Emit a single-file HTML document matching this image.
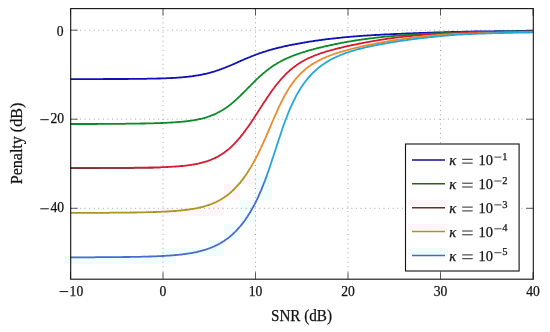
<!DOCTYPE html>
<html><head><meta charset="utf-8"><style>
html,body{margin:0;padding:0;background:#fff;}
body{width:550px;height:332px;overflow:hidden;}
svg{display:block;will-change:transform;}
text{font-family:"Liberation Serif",serif;fill:#111;stroke:#111;stroke-width:0.25px;}
.tl{font-size:13.6px;}
.al{font-size:16px;}
.lg{font-size:14.5px;}
.sup{font-size:10.5px;}
.grid{stroke:#a4a4a4;stroke-width:1.0;stroke-dasharray:1.0 3.6;}
.tick{stroke:#333;stroke-width:0.8;}
</style></head><body>
<svg width="550" height="332" viewBox="0 0 550 332">
<rect x="64" y="256" width="112" height="8" fill="#f1fdfd"/>
<rect x="176" y="248" width="32" height="8" fill="#f1fdfd"/>
<rect x="160" y="248" width="16" height="16" fill="#f1fdfd"/>
<rect x="208" y="240" width="16" height="16" fill="#f1fdfd"/>
<rect x="224" y="224" width="16" height="16" fill="#f1fdfd"/>
<rect x="240" y="200" width="16" height="24" fill="#f1fdfd"/>
<rect x="256" y="176" width="16" height="24" fill="#f1fdfd"/>
<rect x="160" y="208" width="48" height="8" fill="#fef5f8"/>
<rect x="208" y="200" width="16" height="16" fill="#fef5f8"/>
<rect x="224" y="184" width="16" height="16" fill="#fef5f8"/>
<rect x="240" y="176" width="16" height="8" fill="#fef5f8"/>
<line x1="163.0" y1="8.6" x2="163.0" y2="279.2" class="grid"/>
<line x1="255.5" y1="8.6" x2="255.5" y2="279.2" class="grid"/>
<line x1="348.0" y1="8.6" x2="348.0" y2="279.2" class="grid"/>
<line x1="440.5" y1="8.6" x2="440.5" y2="279.2" class="grid"/>
<line x1="70.7" y1="30.2" x2="533.3" y2="30.2" class="grid"/>
<line x1="70.7" y1="119.2" x2="533.3" y2="119.2" class="grid"/>
<line x1="70.7" y1="208.3" x2="533.3" y2="208.3" class="grid"/>
<line x1="70.5" y1="279.2" x2="70.5" y2="272.2" class="tick"/>
<line x1="70.5" y1="8.6" x2="70.5" y2="15.6" class="tick"/>
<line x1="163.0" y1="279.2" x2="163.0" y2="272.2" class="tick"/>
<line x1="163.0" y1="8.6" x2="163.0" y2="15.6" class="tick"/>
<line x1="255.5" y1="279.2" x2="255.5" y2="272.2" class="tick"/>
<line x1="255.5" y1="8.6" x2="255.5" y2="15.6" class="tick"/>
<line x1="348.0" y1="279.2" x2="348.0" y2="272.2" class="tick"/>
<line x1="348.0" y1="8.6" x2="348.0" y2="15.6" class="tick"/>
<line x1="440.5" y1="279.2" x2="440.5" y2="272.2" class="tick"/>
<line x1="440.5" y1="8.6" x2="440.5" y2="15.6" class="tick"/>
<line x1="533.0" y1="279.2" x2="533.0" y2="272.2" class="tick"/>
<line x1="533.0" y1="8.6" x2="533.0" y2="15.6" class="tick"/>
<line x1="70.7" y1="30.2" x2="77.7" y2="30.2" class="tick"/>
<line x1="533.3" y1="30.2" x2="526.3" y2="30.2" class="tick"/>
<line x1="70.7" y1="119.2" x2="77.7" y2="119.2" class="tick"/>
<line x1="533.3" y1="119.2" x2="526.3" y2="119.2" class="tick"/>
<line x1="70.7" y1="208.3" x2="77.7" y2="208.3" class="tick"/>
<line x1="533.3" y1="208.3" x2="526.3" y2="208.3" class="tick"/>
<defs><linearGradient id="gOr" gradientUnits="userSpaceOnUse" x1="70" y1="0" x2="533" y2="0"><stop offset="0" stop-color="#a8961e"/><stop offset="0.3801" stop-color="#a8961e"/><stop offset="0.3974" stop-color="#ec8a2c"/><stop offset="1" stop-color="#ec8a2c"/></linearGradient><linearGradient id="gCy" gradientUnits="userSpaceOnUse" x1="70" y1="0" x2="533" y2="0"><stop offset="0" stop-color="#4a6ad0"/><stop offset="0.4147" stop-color="#4a6ad0"/><stop offset="0.4320" stop-color="#22a8d8"/><stop offset="1" stop-color="#22a8d8"/></linearGradient></defs>
<clipPath id="cpR"><rect x="60" y="168" width="150" height="8"/></clipPath>
<path d="M70.5,79.1 L71.4,79.1 L72.3,79.1 L73.3,79.1 L74.2,79.1 L75.1,79.1 L76.0,79.1 L77.0,79.1 L77.9,79.1 L78.8,79.1 L79.8,79.1 L80.7,79.1 L81.6,79.1 L82.5,79.1 L83.5,79.1 L84.4,79.1 L85.3,79.1 L86.2,79.1 L87.2,79.1 L88.1,79.1 L89.0,79.1 L89.9,79.1 L90.9,79.1 L91.8,79.1 L92.7,79.1 L93.6,79.1 L94.5,79.1 L95.5,79.1 L96.4,79.1 L97.3,79.1 L98.2,79.1 L99.2,79.1 L100.1,79.1 L101.0,79.1 L102.0,79.1 L102.9,79.1 L103.8,79.0 L104.7,79.0 L105.7,79.0 L106.6,79.0 L107.5,79.0 L108.4,79.0 L109.3,79.0 L110.3,79.0 L111.2,79.0 L112.1,79.0 L113.1,79.0 L114.0,79.0 L114.9,79.0 L115.8,79.0 L116.8,79.0 L117.7,79.0 L118.6,79.0 L119.5,79.0 L120.5,79.0 L121.4,79.0 L122.3,79.0 L123.2,79.0 L124.2,79.0 L125.1,79.0 L126.0,79.0 L126.9,79.0 L127.8,79.0 L128.8,78.9 L129.7,78.9 L130.6,78.9 L131.6,78.9 L132.5,78.9 L133.4,78.9 L134.3,78.9 L135.2,78.9 L136.2,78.9 L137.1,78.9 L138.0,78.9 L138.9,78.9 L139.9,78.8 L140.8,78.8 L141.7,78.8 L142.7,78.8 L143.6,78.8 L144.5,78.8 L145.4,78.8 L146.4,78.8 L147.3,78.7 L148.2,78.7 L149.1,78.7 L150.1,78.7 L151.0,78.7 L151.9,78.7 L152.8,78.6 L153.8,78.6 L154.7,78.6 L155.6,78.6 L156.5,78.6 L157.4,78.5 L158.4,78.5 L159.3,78.5 L160.2,78.5 L161.2,78.4 L162.1,78.4 L163.0,78.4 L163.9,78.3 L164.9,78.3 L165.8,78.3 L166.7,78.2 L167.6,78.2 L168.6,78.2 L169.5,78.1 L170.4,78.1 L171.3,78.0 L172.2,78.0 L173.2,77.9 L174.1,77.9 L175.0,77.8 L175.9,77.8 L176.9,77.7 L177.8,77.6 L178.7,77.6 L179.7,77.5 L180.6,77.4 L181.5,77.4 L182.4,77.3 L183.4,77.2 L184.3,77.1 L185.2,77.0 L186.1,76.9 L187.1,76.8 L188.0,76.7 L188.9,76.6 L189.8,76.5 L190.8,76.4 L191.7,76.3 L192.6,76.2 L193.5,76.0 L194.4,75.9 L195.4,75.7 L196.3,75.6 L197.2,75.4 L198.2,75.3 L199.1,75.1 L200.0,75.0 L200.9,74.8 L201.9,74.6 L202.8,74.4 L203.7,74.2 L204.6,74.0 L205.6,73.8 L206.5,73.6 L207.4,73.4 L208.3,73.1 L209.2,72.9 L210.2,72.6 L211.1,72.4 L212.0,72.1 L212.9,71.8 L213.9,71.6 L214.8,71.3 L215.7,71.0 L216.7,70.7 L217.6,70.4 L218.5,70.1 L219.4,69.7 L220.3,69.4 L221.3,69.1 L222.2,68.7 L223.1,68.4 L224.1,68.0 L225.0,67.7 L225.9,67.3 L226.8,66.9 L227.8,66.5 L228.7,66.2 L229.6,65.8 L230.5,65.4 L231.5,65.0 L232.4,64.6 L233.3,64.2 L234.2,63.8 L235.2,63.4 L236.1,63.0 L237.0,62.6 L237.9,62.1 L238.8,61.7 L239.8,61.3 L240.7,60.9 L241.6,60.5 L242.6,60.1 L243.5,59.7 L244.4,59.3 L245.3,58.9 L246.2,58.5 L247.2,58.1 L248.1,57.7 L249.0,57.4 L250.0,57.0 L250.9,56.6 L251.8,56.2 L252.7,55.9 L253.7,55.5 L254.6,55.1 L255.5,54.8 L256.4,54.4 L257.4,54.1 L258.3,53.8 L259.2,53.4 L260.1,53.1 L261.1,52.8 L262.0,52.5 L262.9,52.2 L263.8,51.9 L264.8,51.6 L265.7,51.3 L266.6,51.0 L267.5,50.7 L268.5,50.5 L269.4,50.2 L270.3,49.9 L271.2,49.7 L272.1,49.4 L273.1,49.1 L274.0,48.9 L274.9,48.7 L275.9,48.4 L276.8,48.2 L277.7,48.0 L278.6,47.7 L279.6,47.5 L280.5,47.3 L281.4,47.1 L282.3,46.9 L283.2,46.6 L284.2,46.4 L285.1,46.2 L286.0,46.0 L287.0,45.8 L287.9,45.6 L288.8,45.4 L289.7,45.2 L290.6,45.1 L291.6,44.9 L292.5,44.7 L293.4,44.5 L294.4,44.3 L295.3,44.2 L296.2,44.0 L297.1,43.8 L298.1,43.6 L299.0,43.5 L299.9,43.3 L300.8,43.1 L301.8,43.0 L302.7,42.8 L303.6,42.7 L304.5,42.5 L305.5,42.3 L306.4,42.2 L307.3,42.0 L308.2,41.9 L309.1,41.7 L310.1,41.6 L311.0,41.4 L311.9,41.3 L312.9,41.2 L313.8,41.0 L314.7,40.9 L315.6,40.7 L316.6,40.6 L317.5,40.5 L318.4,40.3 L319.3,40.2 L320.2,40.1 L321.2,40.0 L322.1,39.8 L323.0,39.7 L324.0,39.6 L324.9,39.5 L325.8,39.4 L326.7,39.2 L327.6,39.1 L328.6,39.0 L329.5,38.9 L330.4,38.8 L331.4,38.7 L332.3,38.6 L333.2,38.5 L334.1,38.4 L335.1,38.3 L336.0,38.2 L336.9,38.1 L337.8,38.0 L338.8,37.9 L339.7,37.8 L340.6,37.7 L341.5,37.6 L342.5,37.5 L343.4,37.4 L344.3,37.3 L345.2,37.2 L346.1,37.1 L347.1,37.1 L348.0,37.0 L348.9,36.9 L349.9,36.8 L350.8,36.7 L351.7,36.7 L352.6,36.6 L353.6,36.5 L354.5,36.4 L355.4,36.4 L356.3,36.3 L357.2,36.2 L358.2,36.1 L359.1,36.1 L360.0,36.0 L361.0,35.9 L361.9,35.9 L362.8,35.8 L363.7,35.7 L364.6,35.7 L365.6,35.6 L366.5,35.6 L367.4,35.5 L368.4,35.4 L369.3,35.4 L370.2,35.3 L371.1,35.3 L372.1,35.2 L373.0,35.1 L373.9,35.1 L374.8,35.0 L375.8,35.0 L376.7,34.9 L377.6,34.9 L378.5,34.8 L379.4,34.8 L380.4,34.7 L381.3,34.7 L382.2,34.6 L383.2,34.6 L384.1,34.5 L385.0,34.5 L385.9,34.4 L386.9,34.4 L387.8,34.3 L388.7,34.3 L389.6,34.3 L390.6,34.2 L391.5,34.2 L392.4,34.1 L393.3,34.1 L394.2,34.0 L395.2,34.0 L396.1,34.0 L397.0,33.9 L397.9,33.9 L398.9,33.8 L399.8,33.8 L400.7,33.8 L401.7,33.7 L402.6,33.7 L403.5,33.6 L404.4,33.6 L405.4,33.6 L406.3,33.5 L407.2,33.5 L408.1,33.4 L409.1,33.4 L410.0,33.4 L410.9,33.3 L411.8,33.3 L412.8,33.3 L413.7,33.2 L414.6,33.2 L415.5,33.2 L416.4,33.1 L417.4,33.1 L418.3,33.1 L419.2,33.0 L420.2,33.0 L421.1,33.0 L422.0,32.9 L422.9,32.9 L423.9,32.9 L424.8,32.8 L425.7,32.8 L426.6,32.8 L427.6,32.7 L428.5,32.7 L429.4,32.7 L430.3,32.7 L431.2,32.6 L432.2,32.6 L433.1,32.6 L434.0,32.5 L435.0,32.5 L435.9,32.5 L436.8,32.5 L437.7,32.4 L438.7,32.4 L439.6,32.4 L440.5,32.4 L441.4,32.3 L442.4,32.3 L443.3,32.3 L444.2,32.2 L445.1,32.2 L446.1,32.2 L447.0,32.2 L447.9,32.1 L448.8,32.1 L449.8,32.1 L450.7,32.1 L451.6,32.0 L452.5,32.0 L453.5,32.0 L454.4,32.0 L455.3,31.9 L456.2,31.9 L457.2,31.9 L458.1,31.9 L459.0,31.8 L459.9,31.8 L460.9,31.8 L461.8,31.8 L462.7,31.8 L463.6,31.7 L464.6,31.7 L465.5,31.7 L466.4,31.7 L467.3,31.7 L468.2,31.6 L469.2,31.6 L470.1,31.6 L471.0,31.6 L472.0,31.6 L472.9,31.6 L473.8,31.5 L474.7,31.5 L475.7,31.5 L476.6,31.5 L477.5,31.5 L478.4,31.5 L479.4,31.5 L480.3,31.4 L481.2,31.4 L482.1,31.4 L483.1,31.4 L484.0,31.4 L484.9,31.4 L485.8,31.4 L486.8,31.3 L487.7,31.3 L488.6,31.3 L489.5,31.3 L490.5,31.3 L491.4,31.3 L492.3,31.3 L493.2,31.3 L494.2,31.3 L495.1,31.2 L496.0,31.2 L496.9,31.2 L497.9,31.2 L498.8,31.2 L499.7,31.2 L500.6,31.2 L501.6,31.2 L502.5,31.2 L503.4,31.2 L504.3,31.2 L505.2,31.1 L506.2,31.1 L507.1,31.1 L508.0,31.1 L509.0,31.1 L509.9,31.1 L510.8,31.1 L511.7,31.1 L512.7,31.1 L513.6,31.1 L514.5,31.1 L515.4,31.1 L516.4,31.0 L517.3,31.0 L518.2,31.0 L519.1,31.0 L520.0,31.0 L521.0,31.0 L521.9,31.0 L522.8,31.0 L523.8,31.0 L524.7,31.0 L525.6,31.0 L526.5,31.0 L527.5,30.9 L528.4,30.9 L529.3,30.9 L530.2,30.9 L531.2,30.9 L532.1,30.9 L533.0,30.9" fill="none" stroke="#1010b8" stroke-width="1.8" stroke-linejoin="round"/>
<path d="M70.5,124.0 L71.4,124.0 L72.3,124.0 L73.3,124.0 L74.2,124.0 L75.1,124.0 L76.0,124.0 L77.0,124.0 L77.9,124.0 L78.8,124.0 L79.8,124.0 L80.7,124.0 L81.6,124.0 L82.5,124.0 L83.5,124.0 L84.4,124.0 L85.3,124.0 L86.2,124.0 L87.2,124.0 L88.1,124.0 L89.0,124.0 L89.9,124.0 L90.9,124.0 L91.8,124.0 L92.7,124.0 L93.6,124.0 L94.5,124.0 L95.5,124.0 L96.4,124.0 L97.3,124.0 L98.2,123.9 L99.2,123.9 L100.1,123.9 L101.0,123.9 L102.0,123.9 L102.9,123.9 L103.8,123.9 L104.7,123.9 L105.7,123.9 L106.6,123.9 L107.5,123.9 L108.4,123.9 L109.3,123.9 L110.3,123.9 L111.2,123.9 L112.1,123.9 L113.1,123.9 L114.0,123.9 L114.9,123.8 L115.8,123.8 L116.8,123.8 L117.7,123.8 L118.6,123.8 L119.5,123.8 L120.5,123.8 L121.4,123.8 L122.3,123.8 L123.2,123.8 L124.2,123.8 L125.1,123.8 L126.0,123.7 L126.9,123.7 L127.8,123.7 L128.8,123.7 L129.7,123.7 L130.6,123.7 L131.6,123.7 L132.5,123.7 L133.4,123.7 L134.3,123.6 L135.2,123.6 L136.2,123.6 L137.1,123.6 L138.0,123.6 L138.9,123.6 L139.9,123.6 L140.8,123.5 L141.7,123.5 L142.7,123.5 L143.6,123.5 L144.5,123.5 L145.4,123.5 L146.4,123.4 L147.3,123.4 L148.2,123.4 L149.1,123.4 L150.1,123.4 L151.0,123.3 L151.9,123.3 L152.8,123.3 L153.8,123.3 L154.7,123.2 L155.6,123.2 L156.5,123.2 L157.4,123.1 L158.4,123.1 L159.3,123.1 L160.2,123.1 L161.2,123.0 L162.1,123.0 L163.0,122.9 L163.9,122.9 L164.9,122.9 L165.8,122.8 L166.7,122.8 L167.6,122.7 L168.6,122.7 L169.5,122.6 L170.4,122.6 L171.3,122.5 L172.2,122.5 L173.2,122.4 L174.1,122.4 L175.0,122.3 L175.9,122.2 L176.9,122.2 L177.8,122.1 L178.7,122.0 L179.7,121.9 L180.6,121.9 L181.5,121.8 L182.4,121.7 L183.4,121.6 L184.3,121.5 L185.2,121.4 L186.1,121.3 L187.1,121.2 L188.0,121.1 L188.9,120.9 L189.8,120.8 L190.8,120.7 L191.7,120.6 L192.6,120.4 L193.5,120.3 L194.4,120.1 L195.4,119.9 L196.3,119.8 L197.2,119.6 L198.2,119.4 L199.1,119.2 L200.0,119.0 L200.9,118.8 L201.9,118.6 L202.8,118.3 L203.7,118.1 L204.6,117.8 L205.6,117.6 L206.5,117.3 L207.4,117.0 L208.3,116.7 L209.2,116.4 L210.2,116.0 L211.1,115.7 L212.0,115.3 L212.9,114.9 L213.9,114.6 L214.8,114.1 L215.7,113.7 L216.7,113.3 L217.6,112.8 L218.5,112.3 L219.4,111.9 L220.3,111.3 L221.3,110.8 L222.2,110.3 L223.1,109.7 L224.1,109.1 L225.0,108.5 L225.9,107.9 L226.8,107.2 L227.8,106.6 L228.7,105.9 L229.6,105.2 L230.5,104.4 L231.5,103.7 L232.4,102.9 L233.3,102.2 L234.2,101.4 L235.2,100.5 L236.1,99.7 L237.0,98.9 L237.9,98.0 L238.8,97.1 L239.8,96.3 L240.7,95.4 L241.6,94.5 L242.6,93.5 L243.5,92.6 L244.4,91.7 L245.3,90.8 L246.2,89.8 L247.2,88.9 L248.1,87.9 L249.0,87.0 L250.0,86.1 L250.9,85.1 L251.8,84.2 L252.7,83.3 L253.7,82.3 L254.6,81.4 L255.5,80.5 L256.4,79.6 L257.4,78.7 L258.3,77.9 L259.2,77.0 L260.1,76.2 L261.1,75.3 L262.0,74.5 L262.9,73.7 L263.8,72.9 L264.8,72.2 L265.7,71.4 L266.6,70.7 L267.5,69.9 L268.5,69.2 L269.4,68.5 L270.3,67.9 L271.2,67.2 L272.1,66.6 L273.1,65.9 L274.0,65.3 L274.9,64.7 L275.9,64.2 L276.8,63.6 L277.7,63.0 L278.6,62.5 L279.6,62.0 L280.5,61.5 L281.4,61.0 L282.3,60.5 L283.2,60.0 L284.2,59.6 L285.1,59.1 L286.0,58.7 L287.0,58.3 L287.9,57.9 L288.8,57.5 L289.7,57.1 L290.6,56.7 L291.6,56.3 L292.5,55.9 L293.4,55.6 L294.4,55.2 L295.3,54.9 L296.2,54.6 L297.1,54.2 L298.1,53.9 L299.0,53.6 L299.9,53.3 L300.8,53.0 L301.8,52.7 L302.7,52.4 L303.6,52.1 L304.5,51.8 L305.5,51.5 L306.4,51.2 L307.3,51.0 L308.2,50.7 L309.1,50.4 L310.1,50.2 L311.0,49.9 L311.9,49.6 L312.9,49.4 L313.8,49.1 L314.7,48.9 L315.6,48.7 L316.6,48.4 L317.5,48.2 L318.4,48.0 L319.3,47.7 L320.2,47.5 L321.2,47.3 L322.1,47.1 L323.0,46.8 L324.0,46.6 L324.9,46.4 L325.8,46.2 L326.7,46.0 L327.6,45.8 L328.6,45.6 L329.5,45.4 L330.4,45.2 L331.4,45.0 L332.3,44.8 L333.2,44.6 L334.1,44.4 L335.1,44.2 L336.0,44.0 L336.9,43.8 L337.8,43.6 L338.8,43.4 L339.7,43.3 L340.6,43.1 L341.5,42.9 L342.5,42.7 L343.4,42.6 L344.3,42.4 L345.2,42.2 L346.1,42.1 L347.1,41.9 L348.0,41.7 L348.9,41.6 L349.9,41.4 L350.8,41.3 L351.7,41.1 L352.6,40.9 L353.6,40.8 L354.5,40.6 L355.4,40.5 L356.3,40.4 L357.2,40.2 L358.2,40.1 L359.1,39.9 L360.0,39.8 L361.0,39.7 L361.9,39.5 L362.8,39.4 L363.7,39.3 L364.6,39.1 L365.6,39.0 L366.5,38.9 L367.4,38.8 L368.4,38.6 L369.3,38.5 L370.2,38.4 L371.1,38.3 L372.1,38.2 L373.0,38.1 L373.9,38.0 L374.8,37.8 L375.8,37.7 L376.7,37.6 L377.6,37.5 L378.5,37.4 L379.4,37.3 L380.4,37.2 L381.3,37.1 L382.2,37.0 L383.2,36.9 L384.1,36.8 L385.0,36.7 L385.9,36.7 L386.9,36.6 L387.8,36.5 L388.7,36.4 L389.6,36.3 L390.6,36.2 L391.5,36.1 L392.4,36.1 L393.3,36.0 L394.2,35.9 L395.2,35.8 L396.1,35.7 L397.0,35.7 L397.9,35.6 L398.9,35.5 L399.8,35.5 L400.7,35.4 L401.7,35.3 L402.6,35.2 L403.5,35.2 L404.4,35.1 L405.4,35.1 L406.3,35.0 L407.2,34.9 L408.1,34.9 L409.1,34.8 L410.0,34.7 L410.9,34.7 L411.8,34.6 L412.8,34.6 L413.7,34.5 L414.6,34.5 L415.5,34.4 L416.4,34.4 L417.4,34.3 L418.3,34.2 L419.2,34.2 L420.2,34.1 L421.1,34.1 L422.0,34.0 L422.9,34.0 L423.9,34.0 L424.8,33.9 L425.7,33.9 L426.6,33.8 L427.6,33.8 L428.5,33.7 L429.4,33.7 L430.3,33.6 L431.2,33.6 L432.2,33.6 L433.1,33.5 L434.0,33.5 L435.0,33.4 L435.9,33.4 L436.8,33.4 L437.7,33.3 L438.7,33.3 L439.6,33.3 L440.5,33.2 L441.4,33.2 L442.4,33.2 L443.3,33.1 L444.2,33.1 L445.1,33.1 L446.1,33.0 L447.0,33.0 L447.9,33.0 L448.8,32.9 L449.8,32.9 L450.7,32.9 L451.6,32.8 L452.5,32.8 L453.5,32.8 L454.4,32.7 L455.3,32.7 L456.2,32.7 L457.2,32.6 L458.1,32.6 L459.0,32.6 L459.9,32.5 L460.9,32.5 L461.8,32.5 L462.7,32.5 L463.6,32.4 L464.6,32.4 L465.5,32.4 L466.4,32.3 L467.3,32.3 L468.2,32.3 L469.2,32.2 L470.1,32.2 L471.0,32.2 L472.0,32.2 L472.9,32.1 L473.8,32.1 L474.7,32.1 L475.7,32.1 L476.6,32.1 L477.5,32.1 L478.4,32.0 L479.4,32.0 L480.3,32.0 L481.2,32.0 L482.1,32.0 L483.1,31.9 L484.0,31.9 L484.9,31.9 L485.8,31.9 L486.8,31.9 L487.7,31.8 L488.6,31.8 L489.5,31.8 L490.5,31.8 L491.4,31.8 L492.3,31.8 L493.2,31.8 L494.2,31.7 L495.1,31.7 L496.0,31.7 L496.9,31.7 L497.9,31.7 L498.8,31.7 L499.7,31.7 L500.6,31.6 L501.6,31.6 L502.5,31.6 L503.4,31.6 L504.3,31.6 L505.2,31.6 L506.2,31.6 L507.1,31.5 L508.0,31.5 L509.0,31.5 L509.9,31.5 L510.8,31.5 L511.7,31.5 L512.7,31.5 L513.6,31.5 L514.5,31.5 L515.4,31.5 L516.4,31.4 L517.3,31.4 L518.2,31.4 L519.1,31.4 L520.0,31.4 L521.0,31.4 L521.9,31.4 L522.8,31.4 L523.8,31.4 L524.7,31.4 L525.6,31.4 L526.5,31.4 L527.5,31.3 L528.4,31.3 L529.3,31.3 L530.2,31.3 L531.2,31.3 L532.1,31.3 L533.0,31.3" fill="none" stroke="#0a8a28" stroke-width="1.8" stroke-linejoin="round"/>
<path d="M70.5,168.0 L71.4,168.0 L72.3,168.0 L73.3,168.0 L74.2,168.0 L75.1,168.0 L76.0,168.0 L77.0,168.0 L77.9,168.0 L78.8,168.0 L79.8,168.0 L80.7,168.0 L81.6,168.0 L82.5,168.0 L83.5,168.0 L84.4,168.0 L85.3,168.0 L86.2,168.0 L87.2,168.0 L88.1,168.0 L89.0,168.0 L89.9,168.0 L90.9,168.0 L91.8,168.0 L92.7,168.0 L93.6,168.0 L94.5,168.0 L95.5,168.0 L96.4,168.0 L97.3,168.0 L98.2,168.0 L99.2,167.9 L100.1,167.9 L101.0,167.9 L102.0,167.9 L102.9,167.9 L103.8,167.9 L104.7,167.9 L105.7,167.9 L106.6,167.9 L107.5,167.9 L108.4,167.9 L109.3,167.9 L110.3,167.9 L111.2,167.9 L112.1,167.9 L113.1,167.9 L114.0,167.9 L114.9,167.9 L115.8,167.9 L116.8,167.9 L117.7,167.9 L118.6,167.9 L119.5,167.9 L120.5,167.9 L121.4,167.8 L122.3,167.8 L123.2,167.8 L124.2,167.8 L125.1,167.8 L126.0,167.8 L126.9,167.8 L127.8,167.8 L128.8,167.8 L129.7,167.8 L130.6,167.8 L131.6,167.8 L132.5,167.8 L133.4,167.8 L134.3,167.7 L135.2,167.7 L136.2,167.7 L137.1,167.7 L138.0,167.7 L138.9,167.7 L139.9,167.7 L140.8,167.7 L141.7,167.7 L142.7,167.6 L143.6,167.6 L144.5,167.6 L145.4,167.6 L146.4,167.6 L147.3,167.6 L148.2,167.6 L149.1,167.5 L150.1,167.5 L151.0,167.5 L151.9,167.5 L152.8,167.5 L153.8,167.4 L154.7,167.4 L155.6,167.4 L156.5,167.4 L157.4,167.3 L158.4,167.3 L159.3,167.3 L160.2,167.3 L161.2,167.2 L162.1,167.2 L163.0,167.2 L163.9,167.1 L164.9,167.1 L165.8,167.1 L166.7,167.0 L167.6,167.0 L168.6,166.9 L169.5,166.9 L170.4,166.8 L171.3,166.8 L172.2,166.7 L173.2,166.7 L174.1,166.6 L175.0,166.6 L175.9,166.5 L176.9,166.4 L177.8,166.4 L178.7,166.3 L179.7,166.2 L180.6,166.1 L181.5,166.0 L182.4,166.0 L183.4,165.9 L184.3,165.8 L185.2,165.7 L186.1,165.6 L187.1,165.4 L188.0,165.3 L188.9,165.2 L189.8,165.1 L190.8,164.9 L191.7,164.8 L192.6,164.7 L193.5,164.5 L194.4,164.3 L195.4,164.2 L196.3,164.0 L197.2,163.8 L198.2,163.6 L199.1,163.4 L200.0,163.2 L200.9,163.0 L201.9,162.7 L202.8,162.5 L203.7,162.2 L204.6,162.0 L205.6,161.7 L206.5,161.4 L207.4,161.1 L208.3,160.8 L209.2,160.4 L210.2,160.1 L211.1,159.7 L212.0,159.3 L212.9,158.9 L213.9,158.5 L214.8,158.1 L215.7,157.6 L216.7,157.2 L217.6,156.7 L218.5,156.2 L219.4,155.6 L220.3,155.1 L221.3,154.5 L222.2,153.9 L223.1,153.3 L224.1,152.7 L225.0,152.0 L225.9,151.3 L226.8,150.6 L227.8,149.8 L228.7,149.1 L229.6,148.3 L230.5,147.5 L231.5,146.6 L232.4,145.7 L233.3,144.8 L234.2,143.9 L235.2,142.9 L236.1,141.9 L237.0,140.9 L237.9,139.9 L238.8,138.8 L239.8,137.7 L240.7,136.6 L241.6,135.4 L242.6,134.3 L243.5,133.1 L244.4,131.8 L245.3,130.6 L246.2,129.3 L247.2,128.0 L248.1,126.7 L249.0,125.4 L250.0,124.0 L250.9,122.7 L251.8,121.3 L252.7,119.9 L253.7,118.5 L254.6,117.1 L255.5,115.6 L256.4,114.2 L257.4,112.8 L258.3,111.3 L259.2,109.9 L260.1,108.4 L261.1,107.0 L262.0,105.6 L262.9,104.1 L263.8,102.7 L264.8,101.3 L265.7,99.9 L266.6,98.5 L267.5,97.1 L268.5,95.8 L269.4,94.4 L270.3,93.1 L271.2,91.8 L272.1,90.5 L273.1,89.2 L274.0,88.0 L274.9,86.7 L275.9,85.5 L276.8,84.3 L277.7,83.2 L278.6,82.1 L279.6,81.0 L280.5,79.9 L281.4,78.8 L282.3,77.8 L283.2,76.8 L284.2,75.8 L285.1,74.9 L286.0,73.9 L287.0,73.0 L287.9,72.2 L288.8,71.3 L289.7,70.5 L290.6,69.7 L291.6,68.9 L292.5,68.2 L293.4,67.4 L294.4,66.7 L295.3,66.0 L296.2,65.4 L297.1,64.7 L298.1,64.1 L299.0,63.5 L299.9,62.9 L300.8,62.3 L301.8,61.8 L302.7,61.2 L303.6,60.7 L304.5,60.2 L305.5,59.7 L306.4,59.3 L307.3,58.8 L308.2,58.3 L309.1,57.9 L310.1,57.5 L311.0,57.1 L311.9,56.7 L312.9,56.3 L313.8,55.9 L314.7,55.5 L315.6,55.2 L316.6,54.8 L317.5,54.5 L318.4,54.1 L319.3,53.8 L320.2,53.5 L321.2,53.2 L322.1,52.9 L323.0,52.6 L324.0,52.3 L324.9,52.0 L325.8,51.7 L326.7,51.4 L327.6,51.2 L328.6,50.9 L329.5,50.6 L330.4,50.4 L331.4,50.1 L332.3,49.9 L333.2,49.6 L334.1,49.4 L335.1,49.1 L336.0,48.9 L336.9,48.7 L337.8,48.4 L338.8,48.2 L339.7,48.0 L340.6,47.8 L341.5,47.5 L342.5,47.3 L343.4,47.1 L344.3,46.9 L345.2,46.7 L346.1,46.5 L347.1,46.2 L348.0,46.0 L348.9,45.8 L349.9,45.6 L350.8,45.4 L351.7,45.2 L352.6,45.0 L353.6,44.8 L354.5,44.6 L355.4,44.5 L356.3,44.3 L357.2,44.1 L358.2,43.9 L359.1,43.7 L360.0,43.5 L361.0,43.3 L361.9,43.2 L362.8,43.0 L363.7,42.8 L364.6,42.6 L365.6,42.4 L366.5,42.3 L367.4,42.1 L368.4,41.9 L369.3,41.8 L370.2,41.6 L371.1,41.4 L372.1,41.3 L373.0,41.1 L373.9,40.9 L374.8,40.8 L375.8,40.6 L376.7,40.5 L377.6,40.3 L378.5,40.2 L379.4,40.0 L380.4,39.9 L381.3,39.7 L382.2,39.6 L383.2,39.4 L384.1,39.3 L385.0,39.2 L385.9,39.0 L386.9,38.9 L387.8,38.7 L388.7,38.6 L389.6,38.5 L390.6,38.4 L391.5,38.2 L392.4,38.1 L393.3,38.0 L394.2,37.9 L395.2,37.7 L396.1,37.6 L397.0,37.5 L397.9,37.4 L398.9,37.3 L399.8,37.2 L400.7,37.1 L401.7,36.9 L402.6,36.8 L403.5,36.7 L404.4,36.6 L405.4,36.5 L406.3,36.4 L407.2,36.3 L408.1,36.2 L409.1,36.1 L410.0,36.1 L410.9,36.0 L411.8,35.9 L412.8,35.8 L413.7,35.7 L414.6,35.6 L415.5,35.5 L416.4,35.5 L417.4,35.4 L418.3,35.3 L419.2,35.2 L420.2,35.1 L421.1,35.1 L422.0,35.0 L422.9,34.9 L423.9,34.9 L424.8,34.8 L425.7,34.7 L426.6,34.7 L427.6,34.6 L428.5,34.5 L429.4,34.5 L430.3,34.4 L431.2,34.3 L432.2,34.3 L433.1,34.2 L434.0,34.2 L435.0,34.1 L435.9,34.1 L436.8,34.0 L437.7,34.0 L438.7,33.9 L439.6,33.9 L440.5,33.8 L441.4,33.8 L442.4,33.8 L443.3,33.7 L444.2,33.7 L445.1,33.7 L446.1,33.6 L447.0,33.6 L447.9,33.6 L448.8,33.5 L449.8,33.5 L450.7,33.5 L451.6,33.4 L452.5,33.4 L453.5,33.3 L454.4,33.3 L455.3,33.3 L456.2,33.2 L457.2,33.2 L458.1,33.2 L459.0,33.2 L459.9,33.1 L460.9,33.1 L461.8,33.1 L462.7,33.0 L463.6,33.0 L464.6,33.0 L465.5,33.0 L466.4,32.9 L467.3,32.9 L468.2,32.9 L469.2,32.8 L470.1,32.8 L471.0,32.8 L472.0,32.8 L472.9,32.7 L473.8,32.7 L474.7,32.7 L475.7,32.7 L476.6,32.6 L477.5,32.6 L478.4,32.6 L479.4,32.6 L480.3,32.5 L481.2,32.5 L482.1,32.5 L483.1,32.5 L484.0,32.5 L484.9,32.4 L485.8,32.4 L486.8,32.4 L487.7,32.4 L488.6,32.3 L489.5,32.3 L490.5,32.3 L491.4,32.3 L492.3,32.3 L493.2,32.2 L494.2,32.2 L495.1,32.2 L496.0,32.2 L496.9,32.2 L497.9,32.1 L498.8,32.1 L499.7,32.1 L500.6,32.1 L501.6,32.1 L502.5,32.1 L503.4,32.0 L504.3,32.0 L505.2,32.0 L506.2,32.0 L507.1,32.0 L508.0,31.9 L509.0,31.9 L509.9,31.9 L510.8,31.9 L511.7,31.9 L512.7,31.9 L513.6,31.9 L514.5,31.8 L515.4,31.8 L516.4,31.8 L517.3,31.8 L518.2,31.8 L519.1,31.8 L520.0,31.8 L521.0,31.8 L521.9,31.7 L522.8,31.7 L523.8,31.7 L524.7,31.7 L525.6,31.7 L526.5,31.7 L527.5,31.7 L528.4,31.7 L529.3,31.6 L530.2,31.6 L531.2,31.6 L532.1,31.6 L533.0,31.6" fill="none" stroke="#d81a30" stroke-width="1.8" stroke-linejoin="round"/>
<path d="M70.5,168.0 L71.4,168.0 L72.3,168.0 L73.3,168.0 L74.2,168.0 L75.1,168.0 L76.0,168.0 L77.0,168.0 L77.9,168.0 L78.8,168.0 L79.8,168.0 L80.7,168.0 L81.6,168.0 L82.5,168.0 L83.5,168.0 L84.4,168.0 L85.3,168.0 L86.2,168.0 L87.2,168.0 L88.1,168.0 L89.0,168.0 L89.9,168.0 L90.9,168.0 L91.8,168.0 L92.7,168.0 L93.6,168.0 L94.5,168.0 L95.5,168.0 L96.4,168.0 L97.3,168.0 L98.2,168.0 L99.2,167.9 L100.1,167.9 L101.0,167.9 L102.0,167.9 L102.9,167.9 L103.8,167.9 L104.7,167.9 L105.7,167.9 L106.6,167.9 L107.5,167.9 L108.4,167.9 L109.3,167.9 L110.3,167.9 L111.2,167.9 L112.1,167.9 L113.1,167.9 L114.0,167.9 L114.9,167.9 L115.8,167.9 L116.8,167.9 L117.7,167.9 L118.6,167.9 L119.5,167.9 L120.5,167.9 L121.4,167.8 L122.3,167.8 L123.2,167.8 L124.2,167.8 L125.1,167.8 L126.0,167.8 L126.9,167.8 L127.8,167.8 L128.8,167.8 L129.7,167.8 L130.6,167.8 L131.6,167.8 L132.5,167.8 L133.4,167.8 L134.3,167.7 L135.2,167.7 L136.2,167.7 L137.1,167.7 L138.0,167.7 L138.9,167.7 L139.9,167.7 L140.8,167.7 L141.7,167.7 L142.7,167.6 L143.6,167.6 L144.5,167.6 L145.4,167.6 L146.4,167.6 L147.3,167.6 L148.2,167.6 L149.1,167.5 L150.1,167.5 L151.0,167.5 L151.9,167.5 L152.8,167.5 L153.8,167.4 L154.7,167.4 L155.6,167.4 L156.5,167.4 L157.4,167.3 L158.4,167.3 L159.3,167.3 L160.2,167.3 L161.2,167.2 L162.1,167.2 L163.0,167.2 L163.9,167.1 L164.9,167.1 L165.8,167.1 L166.7,167.0 L167.6,167.0 L168.6,166.9 L169.5,166.9 L170.4,166.8 L171.3,166.8 L172.2,166.7 L173.2,166.7 L174.1,166.6 L175.0,166.6 L175.9,166.5 L176.9,166.4 L177.8,166.4 L178.7,166.3 L179.7,166.2 L180.6,166.1 L181.5,166.0 L182.4,166.0 L183.4,165.9 L184.3,165.8 L185.2,165.7 L186.1,165.6 L187.1,165.4 L188.0,165.3 L188.9,165.2 L189.8,165.1 L190.8,164.9 L191.7,164.8 L192.6,164.7 L193.5,164.5 L194.4,164.3 L195.4,164.2 L196.3,164.0 L197.2,163.8 L198.2,163.6 L199.1,163.4 L200.0,163.2 L200.9,163.0 L201.9,162.7 L202.8,162.5 L203.7,162.2 L204.6,162.0 L205.6,161.7 L206.5,161.4 L207.4,161.1 L208.3,160.8 L209.2,160.4 L210.2,160.1 L211.1,159.7 L212.0,159.3 L212.9,158.9 L213.9,158.5 L214.8,158.1 L215.7,157.6 L216.7,157.2 L217.6,156.7 L218.5,156.2 L219.4,155.6 L220.3,155.1 L221.3,154.5 L222.2,153.9 L223.1,153.3 L224.1,152.7 L225.0,152.0 L225.9,151.3 L226.8,150.6 L227.8,149.8 L228.7,149.1 L229.6,148.3 L230.5,147.5 L231.5,146.6 L232.4,145.7 L233.3,144.8 L234.2,143.9 L235.2,142.9 L236.1,141.9 L237.0,140.9 L237.9,139.9 L238.8,138.8 L239.8,137.7 L240.7,136.6 L241.6,135.4 L242.6,134.3 L243.5,133.1 L244.4,131.8 L245.3,130.6 L246.2,129.3 L247.2,128.0 L248.1,126.7 L249.0,125.4 L250.0,124.0 L250.9,122.7 L251.8,121.3 L252.7,119.9 L253.7,118.5 L254.6,117.1 L255.5,115.6 L256.4,114.2 L257.4,112.8 L258.3,111.3 L259.2,109.9 L260.1,108.4 L261.1,107.0 L262.0,105.6 L262.9,104.1 L263.8,102.7 L264.8,101.3 L265.7,99.9 L266.6,98.5 L267.5,97.1 L268.5,95.8 L269.4,94.4 L270.3,93.1 L271.2,91.8 L272.1,90.5 L273.1,89.2 L274.0,88.0 L274.9,86.7 L275.9,85.5 L276.8,84.3 L277.7,83.2 L278.6,82.1 L279.6,81.0 L280.5,79.9 L281.4,78.8 L282.3,77.8 L283.2,76.8 L284.2,75.8 L285.1,74.9 L286.0,73.9 L287.0,73.0 L287.9,72.2 L288.8,71.3 L289.7,70.5 L290.6,69.7 L291.6,68.9 L292.5,68.2 L293.4,67.4 L294.4,66.7 L295.3,66.0 L296.2,65.4 L297.1,64.7 L298.1,64.1 L299.0,63.5 L299.9,62.9 L300.8,62.3 L301.8,61.8 L302.7,61.2 L303.6,60.7 L304.5,60.2 L305.5,59.7 L306.4,59.3 L307.3,58.8 L308.2,58.3 L309.1,57.9 L310.1,57.5 L311.0,57.1 L311.9,56.7 L312.9,56.3 L313.8,55.9 L314.7,55.5 L315.6,55.2 L316.6,54.8 L317.5,54.5 L318.4,54.1 L319.3,53.8 L320.2,53.5 L321.2,53.2 L322.1,52.9 L323.0,52.6 L324.0,52.3 L324.9,52.0 L325.8,51.7 L326.7,51.4 L327.6,51.2 L328.6,50.9 L329.5,50.6 L330.4,50.4 L331.4,50.1 L332.3,49.9 L333.2,49.6 L334.1,49.4 L335.1,49.1 L336.0,48.9 L336.9,48.7 L337.8,48.4 L338.8,48.2 L339.7,48.0 L340.6,47.8 L341.5,47.5 L342.5,47.3 L343.4,47.1 L344.3,46.9 L345.2,46.7 L346.1,46.5 L347.1,46.2 L348.0,46.0 L348.9,45.8 L349.9,45.6 L350.8,45.4 L351.7,45.2 L352.6,45.0 L353.6,44.8 L354.5,44.6 L355.4,44.5 L356.3,44.3 L357.2,44.1 L358.2,43.9 L359.1,43.7 L360.0,43.5 L361.0,43.3 L361.9,43.2 L362.8,43.0 L363.7,42.8 L364.6,42.6 L365.6,42.4 L366.5,42.3 L367.4,42.1 L368.4,41.9 L369.3,41.8 L370.2,41.6 L371.1,41.4 L372.1,41.3 L373.0,41.1 L373.9,40.9 L374.8,40.8 L375.8,40.6 L376.7,40.5 L377.6,40.3 L378.5,40.2 L379.4,40.0 L380.4,39.9 L381.3,39.7 L382.2,39.6 L383.2,39.4 L384.1,39.3 L385.0,39.2 L385.9,39.0 L386.9,38.9 L387.8,38.7 L388.7,38.6 L389.6,38.5 L390.6,38.4 L391.5,38.2 L392.4,38.1 L393.3,38.0 L394.2,37.9 L395.2,37.7 L396.1,37.6 L397.0,37.5 L397.9,37.4 L398.9,37.3 L399.8,37.2 L400.7,37.1 L401.7,36.9 L402.6,36.8 L403.5,36.7 L404.4,36.6 L405.4,36.5 L406.3,36.4 L407.2,36.3 L408.1,36.2 L409.1,36.1 L410.0,36.1 L410.9,36.0 L411.8,35.9 L412.8,35.8 L413.7,35.7 L414.6,35.6 L415.5,35.5 L416.4,35.5 L417.4,35.4 L418.3,35.3 L419.2,35.2 L420.2,35.1 L421.1,35.1 L422.0,35.0 L422.9,34.9 L423.9,34.9 L424.8,34.8 L425.7,34.7 L426.6,34.7 L427.6,34.6 L428.5,34.5 L429.4,34.5 L430.3,34.4 L431.2,34.3 L432.2,34.3 L433.1,34.2 L434.0,34.2 L435.0,34.1 L435.9,34.1 L436.8,34.0 L437.7,34.0 L438.7,33.9 L439.6,33.9 L440.5,33.8 L441.4,33.8 L442.4,33.8 L443.3,33.7 L444.2,33.7 L445.1,33.7 L446.1,33.6 L447.0,33.6 L447.9,33.6 L448.8,33.5 L449.8,33.5 L450.7,33.5 L451.6,33.4 L452.5,33.4 L453.5,33.3 L454.4,33.3 L455.3,33.3 L456.2,33.2 L457.2,33.2 L458.1,33.2 L459.0,33.2 L459.9,33.1 L460.9,33.1 L461.8,33.1 L462.7,33.0 L463.6,33.0 L464.6,33.0 L465.5,33.0 L466.4,32.9 L467.3,32.9 L468.2,32.9 L469.2,32.8 L470.1,32.8 L471.0,32.8 L472.0,32.8 L472.9,32.7 L473.8,32.7 L474.7,32.7 L475.7,32.7 L476.6,32.6 L477.5,32.6 L478.4,32.6 L479.4,32.6 L480.3,32.5 L481.2,32.5 L482.1,32.5 L483.1,32.5 L484.0,32.5 L484.9,32.4 L485.8,32.4 L486.8,32.4 L487.7,32.4 L488.6,32.3 L489.5,32.3 L490.5,32.3 L491.4,32.3 L492.3,32.3 L493.2,32.2 L494.2,32.2 L495.1,32.2 L496.0,32.2 L496.9,32.2 L497.9,32.1 L498.8,32.1 L499.7,32.1 L500.6,32.1 L501.6,32.1 L502.5,32.1 L503.4,32.0 L504.3,32.0 L505.2,32.0 L506.2,32.0 L507.1,32.0 L508.0,31.9 L509.0,31.9 L509.9,31.9 L510.8,31.9 L511.7,31.9 L512.7,31.9 L513.6,31.9 L514.5,31.8 L515.4,31.8 L516.4,31.8 L517.3,31.8 L518.2,31.8 L519.1,31.8 L520.0,31.8 L521.0,31.8 L521.9,31.7 L522.8,31.7 L523.8,31.7 L524.7,31.7 L525.6,31.7 L526.5,31.7 L527.5,31.7 L528.4,31.7 L529.3,31.6 L530.2,31.6 L531.2,31.6 L532.1,31.6 L533.0,31.6" fill="none" stroke="#7a3030" stroke-width="1.8" clip-path="url(#cpR)"/>
<path d="M70.5,212.9 L71.4,212.9 L72.3,212.9 L73.3,212.9 L74.2,212.9 L75.1,212.9 L76.0,212.9 L77.0,212.9 L77.9,212.9 L78.8,212.9 L79.8,212.9 L80.7,212.9 L81.6,212.9 L82.5,212.9 L83.5,212.9 L84.4,212.9 L85.3,212.9 L86.2,212.9 L87.2,212.9 L88.1,212.9 L89.0,212.9 L89.9,212.9 L90.9,212.9 L91.8,212.9 L92.7,212.9 L93.6,212.8 L94.5,212.8 L95.5,212.8 L96.4,212.8 L97.3,212.8 L98.2,212.8 L99.2,212.8 L100.1,212.8 L101.0,212.8 L102.0,212.8 L102.9,212.8 L103.8,212.8 L104.7,212.8 L105.7,212.8 L106.6,212.8 L107.5,212.8 L108.4,212.8 L109.3,212.8 L110.3,212.7 L111.2,212.7 L112.1,212.7 L113.1,212.7 L114.0,212.7 L114.9,212.7 L115.8,212.7 L116.8,212.7 L117.7,212.7 L118.6,212.7 L119.5,212.7 L120.5,212.7 L121.4,212.7 L122.3,212.6 L123.2,212.6 L124.2,212.6 L125.1,212.6 L126.0,212.6 L126.9,212.6 L127.8,212.6 L128.8,212.6 L129.7,212.6 L130.6,212.5 L131.6,212.5 L132.5,212.5 L133.4,212.5 L134.3,212.5 L135.2,212.5 L136.2,212.5 L137.1,212.4 L138.0,212.4 L138.9,212.4 L139.9,212.4 L140.8,212.4 L141.7,212.4 L142.7,212.3 L143.6,212.3 L144.5,212.3 L145.4,212.3 L146.4,212.2 L147.3,212.2 L148.2,212.2 L149.1,212.2 L150.1,212.2 L151.0,212.1 L151.9,212.1 L152.8,212.1 L153.8,212.0 L154.7,212.0 L155.6,212.0 L156.5,212.0 L157.4,211.9 L158.4,211.9 L159.3,211.8 L160.2,211.8 L161.2,211.8 L162.1,211.7 L163.0,211.7 L163.9,211.6 L164.9,211.6 L165.8,211.6 L166.7,211.5 L167.6,211.5 L168.6,211.4 L169.5,211.3 L170.4,211.3 L171.3,211.2 L172.2,211.2 L173.2,211.1 L174.1,211.0 L175.0,211.0 L175.9,210.9 L176.9,210.8 L177.8,210.7 L178.7,210.7 L179.7,210.6 L180.6,210.5 L181.5,210.4 L182.4,210.3 L183.4,210.2 L184.3,210.1 L185.2,210.0 L186.1,209.9 L187.1,209.8 L188.0,209.6 L188.9,209.5 L189.8,209.4 L190.8,209.2 L191.7,209.1 L192.6,208.9 L193.5,208.8 L194.4,208.6 L195.4,208.4 L196.3,208.3 L197.2,208.1 L198.2,207.9 L199.1,207.7 L200.0,207.5 L200.9,207.3 L201.9,207.0 L202.8,206.8 L203.7,206.5 L204.6,206.3 L205.6,206.0 L206.5,205.7 L207.4,205.4 L208.3,205.1 L209.2,204.8 L210.2,204.5 L211.1,204.1 L212.0,203.8 L212.9,203.4 L213.9,203.0 L214.8,202.6 L215.7,202.2 L216.7,201.7 L217.6,201.3 L218.5,200.8 L219.4,200.3 L220.3,199.8 L221.3,199.2 L222.2,198.7 L223.1,198.1 L224.1,197.5 L225.0,196.8 L225.9,196.2 L226.8,195.5 L227.8,194.8 L228.7,194.1 L229.6,193.3 L230.5,192.5 L231.5,191.7 L232.4,190.9 L233.3,190.0 L234.2,189.1 L235.2,188.2 L236.1,187.2 L237.0,186.2 L237.9,185.2 L238.8,184.1 L239.8,183.1 L240.7,181.9 L241.6,180.8 L242.6,179.6 L243.5,178.3 L244.4,177.0 L245.3,175.7 L246.2,174.4 L247.2,173.0 L248.1,171.6 L249.0,170.1 L250.0,168.6 L250.9,167.1 L251.8,165.5 L252.7,163.9 L253.7,162.2 L254.6,160.5 L255.5,158.8 L256.4,157.0 L257.4,155.2 L258.3,153.4 L259.2,151.5 L260.1,149.6 L261.1,147.6 L262.0,145.6 L262.9,143.6 L263.8,141.5 L264.8,139.5 L265.7,137.4 L266.6,135.3 L267.5,133.1 L268.5,131.0 L269.4,128.8 L270.3,126.7 L271.2,124.5 L272.1,122.3 L273.1,120.2 L274.0,118.0 L274.9,115.9 L275.9,113.8 L276.8,111.8 L277.7,109.7 L278.6,107.7 L279.6,105.7 L280.5,103.8 L281.4,101.9 L282.3,100.1 L283.2,98.3 L284.2,96.5 L285.1,94.9 L286.0,93.2 L287.0,91.6 L287.9,90.1 L288.8,88.6 L289.7,87.1 L290.6,85.8 L291.6,84.4 L292.5,83.1 L293.4,81.9 L294.4,80.7 L295.3,79.5 L296.2,78.4 L297.1,77.3 L298.1,76.3 L299.0,75.3 L299.9,74.3 L300.8,73.4 L301.8,72.5 L302.7,71.6 L303.6,70.8 L304.5,70.0 L305.5,69.2 L306.4,68.4 L307.3,67.7 L308.2,67.0 L309.1,66.3 L310.1,65.7 L311.0,65.1 L311.9,64.4 L312.9,63.9 L313.8,63.3 L314.7,62.7 L315.6,62.2 L316.6,61.7 L317.5,61.2 L318.4,60.7 L319.3,60.2 L320.2,59.7 L321.2,59.3 L322.1,58.8 L323.0,58.4 L324.0,58.0 L324.9,57.6 L325.8,57.2 L326.7,56.8 L327.6,56.4 L328.6,56.1 L329.5,55.7 L330.4,55.3 L331.4,55.0 L332.3,54.7 L333.2,54.3 L334.1,54.0 L335.1,53.7 L336.0,53.4 L336.9,53.1 L337.8,52.8 L338.8,52.5 L339.7,52.2 L340.6,51.9 L341.5,51.7 L342.5,51.4 L343.4,51.1 L344.3,50.8 L345.2,50.6 L346.1,50.3 L347.1,50.1 L348.0,49.8 L348.9,49.6 L349.9,49.3 L350.8,49.1 L351.7,48.9 L352.6,48.6 L353.6,48.4 L354.5,48.2 L355.4,47.9 L356.3,47.7 L357.2,47.5 L358.2,47.3 L359.1,47.1 L360.0,46.9 L361.0,46.6 L361.9,46.4 L362.8,46.2 L363.7,46.0 L364.6,45.8 L365.6,45.6 L366.5,45.4 L367.4,45.2 L368.4,45.0 L369.3,44.8 L370.2,44.7 L371.1,44.5 L372.1,44.3 L373.0,44.1 L373.9,43.9 L374.8,43.7 L375.8,43.5 L376.7,43.4 L377.6,43.2 L378.5,43.0 L379.4,42.8 L380.4,42.7 L381.3,42.5 L382.2,42.3 L383.2,42.2 L384.1,42.0 L385.0,41.8 L385.9,41.7 L386.9,41.5 L387.8,41.4 L388.7,41.2 L389.6,41.1 L390.6,40.9 L391.5,40.7 L392.4,40.6 L393.3,40.4 L394.2,40.3 L395.2,40.2 L396.1,40.0 L397.0,39.9 L397.9,39.7 L398.9,39.6 L399.8,39.5 L400.7,39.3 L401.7,39.2 L402.6,39.0 L403.5,38.9 L404.4,38.8 L405.4,38.7 L406.3,38.5 L407.2,38.4 L408.1,38.3 L409.1,38.2 L410.0,38.0 L410.9,37.9 L411.8,37.8 L412.8,37.7 L413.7,37.6 L414.6,37.4 L415.5,37.3 L416.4,37.2 L417.4,37.1 L418.3,37.0 L419.2,36.9 L420.2,36.8 L421.1,36.7 L422.0,36.6 L422.9,36.5 L423.9,36.4 L424.8,36.3 L425.7,36.2 L426.6,36.1 L427.6,36.0 L428.5,35.9 L429.4,35.8 L430.3,35.7 L431.2,35.6 L432.2,35.5 L433.1,35.4 L434.0,35.4 L435.0,35.3 L435.9,35.2 L436.8,35.1 L437.7,35.0 L438.7,34.9 L439.6,34.9 L440.5,34.8 L441.4,34.7 L442.4,34.7 L443.3,34.6 L444.2,34.5 L445.1,34.5 L446.1,34.4 L447.0,34.4 L447.9,34.3 L448.8,34.3 L449.8,34.2 L450.7,34.2 L451.6,34.1 L452.5,34.1 L453.5,34.0 L454.4,34.0 L455.3,33.9 L456.2,33.9 L457.2,33.9 L458.1,33.8 L459.0,33.8 L459.9,33.8 L460.9,33.7 L461.8,33.7 L462.7,33.7 L463.6,33.7 L464.6,33.6 L465.5,33.6 L466.4,33.6 L467.3,33.6 L468.2,33.5 L469.2,33.5 L470.1,33.5 L471.0,33.5 L472.0,33.4 L472.9,33.4 L473.8,33.4 L474.7,33.4 L475.7,33.3 L476.6,33.3 L477.5,33.3 L478.4,33.2 L479.4,33.2 L480.3,33.2 L481.2,33.2 L482.1,33.1 L483.1,33.1 L484.0,33.1 L484.9,33.1 L485.8,33.0 L486.8,33.0 L487.7,33.0 L488.6,32.9 L489.5,32.9 L490.5,32.9 L491.4,32.9 L492.3,32.8 L493.2,32.8 L494.2,32.8 L495.1,32.8 L496.0,32.8 L496.9,32.7 L497.9,32.7 L498.8,32.7 L499.7,32.7 L500.6,32.6 L501.6,32.6 L502.5,32.6 L503.4,32.6 L504.3,32.5 L505.2,32.5 L506.2,32.5 L507.1,32.5 L508.0,32.4 L509.0,32.4 L509.9,32.4 L510.8,32.4 L511.7,32.4 L512.7,32.4 L513.6,32.3 L514.5,32.3 L515.4,32.3 L516.4,32.3 L517.3,32.3 L518.2,32.3 L519.1,32.2 L520.0,32.2 L521.0,32.2 L521.9,32.2 L522.8,32.2 L523.8,32.2 L524.7,32.1 L525.6,32.1 L526.5,32.1 L527.5,32.1 L528.4,32.1 L529.3,32.1 L530.2,32.0 L531.2,32.0 L532.1,32.0 L533.0,32.0" fill="none" stroke="url(#gOr)" stroke-width="1.8" stroke-linejoin="round"/>
<path d="M70.5,257.3 L71.4,257.3 L72.3,257.3 L73.3,257.3 L74.2,257.3 L75.1,257.3 L76.0,257.3 L77.0,257.3 L77.9,257.3 L78.8,257.3 L79.8,257.3 L80.7,257.3 L81.6,257.3 L82.5,257.3 L83.5,257.3 L84.4,257.3 L85.3,257.3 L86.2,257.3 L87.2,257.3 L88.1,257.3 L89.0,257.3 L89.9,257.3 L90.9,257.3 L91.8,257.3 L92.7,257.3 L93.6,257.3 L94.5,257.3 L95.5,257.2 L96.4,257.2 L97.3,257.2 L98.2,257.2 L99.2,257.2 L100.1,257.2 L101.0,257.2 L102.0,257.2 L102.9,257.2 L103.8,257.2 L104.7,257.2 L105.7,257.2 L106.6,257.2 L107.5,257.2 L108.4,257.2 L109.3,257.2 L110.3,257.2 L111.2,257.2 L112.1,257.1 L113.1,257.1 L114.0,257.1 L114.9,257.1 L115.8,257.1 L116.8,257.1 L117.7,257.1 L118.6,257.1 L119.5,257.1 L120.5,257.1 L121.4,257.1 L122.3,257.1 L123.2,257.0 L124.2,257.0 L125.1,257.0 L126.0,257.0 L126.9,257.0 L127.8,257.0 L128.8,257.0 L129.7,257.0 L130.6,256.9 L131.6,256.9 L132.5,256.9 L133.4,256.9 L134.3,256.9 L135.2,256.9 L136.2,256.9 L137.1,256.8 L138.0,256.8 L138.9,256.8 L139.9,256.8 L140.8,256.8 L141.7,256.7 L142.7,256.7 L143.6,256.7 L144.5,256.7 L145.4,256.6 L146.4,256.6 L147.3,256.6 L148.2,256.6 L149.1,256.5 L150.1,256.5 L151.0,256.5 L151.9,256.4 L152.8,256.4 L153.8,256.4 L154.7,256.3 L155.6,256.3 L156.5,256.3 L157.4,256.2 L158.4,256.2 L159.3,256.1 L160.2,256.1 L161.2,256.1 L162.1,256.0 L163.0,256.0 L163.9,255.9 L164.9,255.9 L165.8,255.8 L166.7,255.7 L167.6,255.7 L168.6,255.6 L169.5,255.6 L170.4,255.5 L171.3,255.4 L172.2,255.3 L173.2,255.3 L174.1,255.2 L175.0,255.1 L175.9,255.0 L176.9,254.9 L177.8,254.9 L178.7,254.8 L179.7,254.7 L180.6,254.6 L181.5,254.5 L182.4,254.3 L183.4,254.2 L184.3,254.1 L185.2,254.0 L186.1,253.9 L187.1,253.7 L188.0,253.6 L188.9,253.4 L189.8,253.3 L190.8,253.1 L191.7,253.0 L192.6,252.8 L193.5,252.6 L194.4,252.4 L195.4,252.3 L196.3,252.1 L197.2,251.9 L198.2,251.6 L199.1,251.4 L200.0,251.2 L200.9,250.9 L201.9,250.7 L202.8,250.4 L203.7,250.2 L204.6,249.9 L205.6,249.6 L206.5,249.3 L207.4,249.0 L208.3,248.7 L209.2,248.3 L210.2,248.0 L211.1,247.6 L212.0,247.3 L212.9,246.9 L213.9,246.5 L214.8,246.0 L215.7,245.6 L216.7,245.2 L217.6,244.7 L218.5,244.2 L219.4,243.7 L220.3,243.2 L221.3,242.6 L222.2,242.1 L223.1,241.5 L224.1,240.9 L225.0,240.3 L225.9,239.6 L226.8,239.0 L227.8,238.3 L228.7,237.6 L229.6,236.8 L230.5,236.1 L231.5,235.3 L232.4,234.5 L233.3,233.6 L234.2,232.7 L235.2,231.8 L236.1,230.9 L237.0,229.9 L237.9,228.9 L238.8,227.9 L239.8,226.8 L240.7,225.7 L241.6,224.6 L242.6,223.4 L243.5,222.2 L244.4,221.0 L245.3,219.7 L246.2,218.3 L247.2,217.0 L248.1,215.5 L249.0,214.1 L250.0,212.6 L250.9,211.0 L251.8,209.4 L252.7,207.8 L253.7,206.0 L254.6,204.3 L255.5,202.5 L256.4,200.6 L257.4,198.7 L258.3,196.7 L259.2,194.6 L260.1,192.5 L261.1,190.4 L262.0,188.1 L262.9,185.8 L263.8,183.5 L264.8,181.1 L265.7,178.6 L266.6,176.1 L267.5,173.5 L268.5,170.9 L269.4,168.2 L270.3,165.5 L271.2,162.7 L272.1,159.9 L273.1,157.1 L274.0,154.3 L274.9,151.4 L275.9,148.6 L276.8,145.7 L277.7,142.9 L278.6,140.0 L279.6,137.2 L280.5,134.5 L281.4,131.7 L282.3,129.0 L283.2,126.4 L284.2,123.8 L285.1,121.3 L286.0,118.8 L287.0,116.4 L287.9,114.0 L288.8,111.7 L289.7,109.5 L290.6,107.4 L291.6,105.3 L292.5,103.3 L293.4,101.4 L294.4,99.5 L295.3,97.7 L296.2,95.9 L297.1,94.2 L298.1,92.6 L299.0,91.0 L299.9,89.5 L300.8,88.0 L301.8,86.6 L302.7,85.2 L303.6,83.9 L304.5,82.6 L305.5,81.4 L306.4,80.2 L307.3,79.1 L308.2,77.9 L309.1,76.9 L310.1,75.8 L311.0,74.8 L311.9,73.9 L312.9,72.9 L313.8,72.0 L314.7,71.1 L315.6,70.3 L316.6,69.5 L317.5,68.7 L318.4,67.9 L319.3,67.2 L320.2,66.4 L321.2,65.7 L322.1,65.1 L323.0,64.4 L324.0,63.8 L324.9,63.2 L325.8,62.6 L326.7,62.0 L327.6,61.4 L328.6,60.9 L329.5,60.3 L330.4,59.8 L331.4,59.3 L332.3,58.8 L333.2,58.4 L334.1,57.9 L335.1,57.5 L336.0,57.0 L336.9,56.6 L337.8,56.2 L338.8,55.8 L339.7,55.4 L340.6,55.0 L341.5,54.6 L342.5,54.3 L343.4,53.9 L344.3,53.6 L345.2,53.2 L346.1,52.9 L347.1,52.6 L348.0,52.3 L348.9,52.0 L349.9,51.7 L350.8,51.4 L351.7,51.1 L352.6,50.8 L353.6,50.5 L354.5,50.3 L355.4,50.0 L356.3,49.7 L357.2,49.5 L358.2,49.2 L359.1,49.0 L360.0,48.8 L361.0,48.5 L361.9,48.3 L362.8,48.1 L363.7,47.8 L364.6,47.6 L365.6,47.4 L366.5,47.2 L367.4,47.0 L368.4,46.8 L369.3,46.6 L370.2,46.4 L371.1,46.2 L372.1,46.0 L373.0,45.8 L373.9,45.6 L374.8,45.4 L375.8,45.2 L376.7,45.0 L377.6,44.8 L378.5,44.7 L379.4,44.5 L380.4,44.3 L381.3,44.1 L382.2,44.0 L383.2,43.8 L384.1,43.6 L385.0,43.5 L385.9,43.3 L386.9,43.2 L387.8,43.0 L388.7,42.8 L389.6,42.7 L390.6,42.5 L391.5,42.4 L392.4,42.2 L393.3,42.1 L394.2,41.9 L395.2,41.8 L396.1,41.6 L397.0,41.5 L397.9,41.3 L398.9,41.2 L399.8,41.1 L400.7,40.9 L401.7,40.8 L402.6,40.7 L403.5,40.5 L404.4,40.4 L405.4,40.3 L406.3,40.1 L407.2,40.0 L408.1,39.9 L409.1,39.7 L410.0,39.6 L410.9,39.5 L411.8,39.4 L412.8,39.2 L413.7,39.1 L414.6,39.0 L415.5,38.9 L416.4,38.8 L417.4,38.6 L418.3,38.5 L419.2,38.4 L420.2,38.3 L421.1,38.2 L422.0,38.1 L422.9,38.0 L423.9,37.9 L424.8,37.8 L425.7,37.7 L426.6,37.6 L427.6,37.5 L428.5,37.3 L429.4,37.2 L430.3,37.1 L431.2,37.0 L432.2,37.0 L433.1,36.9 L434.0,36.8 L435.0,36.7 L435.9,36.6 L436.8,36.5 L437.7,36.4 L438.7,36.3 L439.6,36.2 L440.5,36.1 L441.4,36.0 L442.4,35.9 L443.3,35.9 L444.2,35.8 L445.1,35.7 L446.1,35.6 L447.0,35.5 L447.9,35.5 L448.8,35.4 L449.8,35.3 L450.7,35.2 L451.6,35.2 L452.5,35.1 L453.5,35.0 L454.4,34.9 L455.3,34.9 L456.2,34.8 L457.2,34.7 L458.1,34.7 L459.0,34.6 L459.9,34.6 L460.9,34.5 L461.8,34.5 L462.7,34.4 L463.6,34.4 L464.6,34.3 L465.5,34.2 L466.4,34.2 L467.3,34.1 L468.2,34.1 L469.2,34.0 L470.1,34.0 L471.0,34.0 L472.0,33.9 L472.9,33.9 L473.8,33.9 L474.7,33.8 L475.7,33.8 L476.6,33.8 L477.5,33.7 L478.4,33.7 L479.4,33.7 L480.3,33.6 L481.2,33.6 L482.1,33.6 L483.1,33.5 L484.0,33.5 L484.9,33.5 L485.8,33.4 L486.8,33.4 L487.7,33.4 L488.6,33.3 L489.5,33.3 L490.5,33.3 L491.4,33.3 L492.3,33.2 L493.2,33.2 L494.2,33.2 L495.1,33.2 L496.0,33.1 L496.9,33.1 L497.9,33.1 L498.8,33.1 L499.7,33.1 L500.6,33.0 L501.6,33.0 L502.5,33.0 L503.4,33.0 L504.3,32.9 L505.2,32.9 L506.2,32.9 L507.1,32.9 L508.0,32.8 L509.0,32.8 L509.9,32.8 L510.8,32.8 L511.7,32.8 L512.7,32.8 L513.6,32.7 L514.5,32.7 L515.4,32.7 L516.4,32.7 L517.3,32.7 L518.2,32.7 L519.1,32.6 L520.0,32.6 L521.0,32.6 L521.9,32.6 L522.8,32.6 L523.8,32.6 L524.7,32.5 L525.6,32.5 L526.5,32.5 L527.5,32.5 L528.4,32.5 L529.3,32.5 L530.2,32.4 L531.2,32.4 L532.1,32.4 L533.0,32.4" fill="none" stroke="url(#gCy)" stroke-width="1.8" stroke-linejoin="round"/>
<rect x="70.7" y="8.6" width="462.6" height="270.6" fill="none" stroke="#111" stroke-width="1.1"/>
<line x1="59.5" y1="291.6" x2="68.2" y2="291.6" stroke="#111" stroke-width="1.0"/>
<text x="76.4" y="295.6" class="tl" text-anchor="middle">10</text>
<text x="163.0" y="295.6" class="tl" text-anchor="middle">0</text>
<text x="255.5" y="295.6" class="tl" text-anchor="middle">10</text>
<text x="348.0" y="295.6" class="tl" text-anchor="middle">20</text>
<text x="440.5" y="295.6" class="tl" text-anchor="middle">30</text>
<text x="533.0" y="295.6" class="tl" text-anchor="middle">40</text>
<text x="63.6" y="35.5" class="tl" text-anchor="end">0</text>
<line x1="40.3" y1="119.7" x2="48.8" y2="119.7" stroke="#111" stroke-width="1.0"/>
<text x="64" y="123.2" class="tl" text-anchor="end">20</text>
<line x1="40.3" y1="208.8" x2="48.8" y2="208.8" stroke="#111" stroke-width="1.0"/>
<text x="64" y="212.4" class="tl" text-anchor="end">40</text>
<text x="271" y="321.2" class="al" textLength="61" lengthAdjust="spacingAndGlyphs">SNR (dB)</text>
<text transform="translate(22.3,184.3) rotate(-90)" class="al" textLength="81.6" lengthAdjust="spacingAndGlyphs">Penalty (dB)</text>
<rect x="405.5" y="144" width="113.6" height="127" fill="#fff" stroke="#111" stroke-width="1.1"/>
<rect x="408" y="248" width="40" height="7" fill="#f1fdfd"/>
<rect x="408" y="200" width="40" height="6" fill="#fef5f8"/>
<rect x="408" y="224" width="40" height="6" fill="#fef5f8"/>
<line x1="412" y1="159.9" x2="445" y2="159.9" stroke="#12128c" stroke-width="1.5"/>
<text x="449.3" y="165.2" class="lg" font-style="italic">&#954;</text>
<line x1="462.2" y1="159.3" x2="472.7" y2="159.3" stroke="#111" stroke-width="0.9"/>
<line x1="462.2" y1="163.1" x2="472.7" y2="163.1" stroke="#111" stroke-width="0.9"/>
<text x="478.4" y="165.2" class="lg">10</text>
<line x1="494.3" y1="157.1" x2="501.5" y2="157.1" stroke="#111" stroke-width="0.8"/>
<text x="502.2" y="159.7" class="sup">1</text>
<line x1="412" y1="183.8" x2="445" y2="183.8" stroke="#2e5e1e" stroke-width="1.5"/>
<text x="449.3" y="189.1" class="lg" font-style="italic">&#954;</text>
<line x1="462.2" y1="183.2" x2="472.7" y2="183.2" stroke="#111" stroke-width="0.9"/>
<line x1="462.2" y1="187.0" x2="472.7" y2="187.0" stroke="#111" stroke-width="0.9"/>
<text x="478.4" y="189.1" class="lg">10</text>
<line x1="494.3" y1="181.0" x2="501.5" y2="181.0" stroke="#111" stroke-width="0.8"/>
<text x="502.2" y="183.6" class="sup">2</text>
<line x1="412" y1="207.7" x2="445" y2="207.7" stroke="#5e3222" stroke-width="1.5"/>
<text x="449.3" y="213.0" class="lg" font-style="italic">&#954;</text>
<line x1="462.2" y1="207.1" x2="472.7" y2="207.1" stroke="#111" stroke-width="0.9"/>
<line x1="462.2" y1="210.9" x2="472.7" y2="210.9" stroke="#111" stroke-width="0.9"/>
<text x="478.4" y="213.0" class="lg">10</text>
<line x1="494.3" y1="204.9" x2="501.5" y2="204.9" stroke="#111" stroke-width="0.8"/>
<text x="502.2" y="207.5" class="sup">3</text>
<line x1="412" y1="231.6" x2="445" y2="231.6" stroke="#a09a28" stroke-width="1.5"/>
<text x="449.3" y="236.9" class="lg" font-style="italic">&#954;</text>
<line x1="462.2" y1="231.0" x2="472.7" y2="231.0" stroke="#111" stroke-width="0.9"/>
<line x1="462.2" y1="234.8" x2="472.7" y2="234.8" stroke="#111" stroke-width="0.9"/>
<text x="478.4" y="236.9" class="lg">10</text>
<line x1="494.3" y1="228.8" x2="501.5" y2="228.8" stroke="#111" stroke-width="0.8"/>
<text x="502.2" y="231.4" class="sup">4</text>
<line x1="412" y1="255.5" x2="445" y2="255.5" stroke="#4a62cc" stroke-width="1.5"/>
<text x="449.3" y="260.8" class="lg" font-style="italic">&#954;</text>
<line x1="462.2" y1="254.9" x2="472.7" y2="254.9" stroke="#111" stroke-width="0.9"/>
<line x1="462.2" y1="258.7" x2="472.7" y2="258.7" stroke="#111" stroke-width="0.9"/>
<text x="478.4" y="260.8" class="lg">10</text>
<line x1="494.3" y1="252.7" x2="501.5" y2="252.7" stroke="#111" stroke-width="0.8"/>
<text x="502.2" y="255.3" class="sup">5</text>
</svg>
</body></html>
